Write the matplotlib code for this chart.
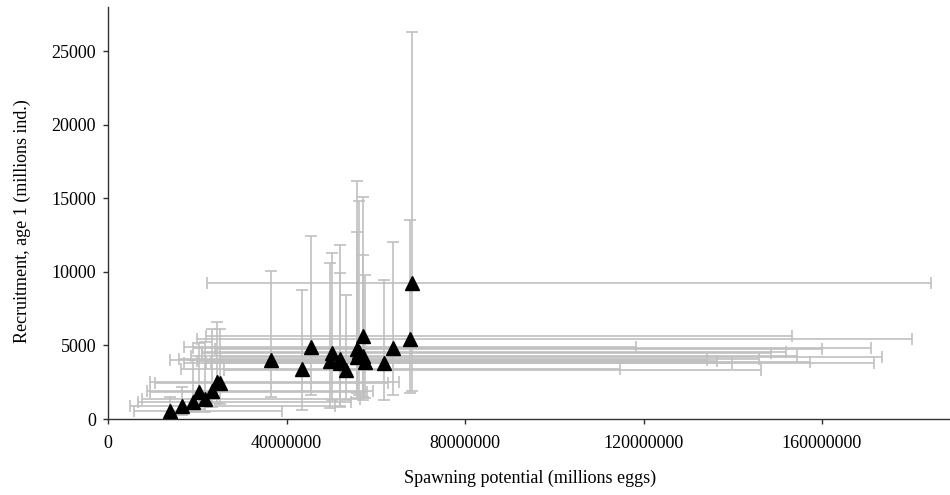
import matplotlib
matplotlib.use('Agg')
import matplotlib.pyplot as plt
import numpy as np

# spawning potential (millions eggs) -- values in units of 1e6
spawn = np.array([14.0, 16.5, 19.1, 20.5, 21.7, 23.2, 24.4, 25.1,
                  36.5, 43.4, 45.6, 50.1, 49.7, 52.0, 53.3, 57.1, 55.9,
                  55.7, 57.2, 57.7, 61.9, 63.8, 67.7, 68.1, 52.1, 56.3]) * 1e6
spawn_lo = np.array([5.8, 4.9, 6.7, 9.4, 7.6, 8.7, 9.4, 10.5,
                     14.0, 16.4, 17.1, 21.0, 20.0, 16.0, 26.0, 22.0, 24.0,
                     25.0, 18.5, 23.0, 22.0, 19.0, 20.0, 22.2, 17.0, 21.0]) * 1e6
spawn_hi = np.array([39.0, 50.9, 54.5, 58.0, 56.5, 59.4, 65.2, 62.7,
                     134.2, 114.7, 118.3, 148.6, 136.4, 145.9, 146.3, 153.2, 160.0,
                     173.4, 154.3, 157.3, 171.7, 171.0, 180.1, 184.4, 139.9, 152.0]) * 1e6

# recruitment, age 1 (millions ind.)
recruit = np.array([565, 885, 1180, 1860, 1340, 1925, 2540, 2430,
                    4015, 3400, 4920, 4470, 3970, 4060, 3335, 5650, 4745,
                    4200, 4290, 3900, 3790, 4810, 5425, 9235, 3810, 4560])
recruit_lo = np.array([150, 300, 500, 700, 450, 800, 1100, 1000,
                       1500, 600, 1630, 1290, 750, 840, 1290, 1500, 1800,
                       1400, 1300, 1400, 1290, 1630, 1750, 1900, 900, 1600])
recruit_hi = np.array([1500, 2200, 4000, 5170, 5260, 6100, 6620, 6125,
                       10025, 8780, 12455, 11280, 10600, 11840, 8440, 15090, 16150,
                       12680, 11160, 9800, 9460, 12000, 13500, 26290, 9916, 14790])

xticks = [0, 40000000, 80000000, 120000000, 160000000]
xticklabels = ['0', '40000000', '80000000', '120000000', '160000000']
yticks = [0, 5000, 10000, 15000, 20000, 25000]
yticklabels = ['0', '5000', '10000', '15000', '20000', '25000']

plt.rcParams['font.family'] = ['Liberation Serif', 'DejaVu Serif']

fig = plt.figure(figsize=(9.5, 4.95), dpi=100)
ax = fig.add_axes([108 / 950, 1 - 419 / 495, 842 / 950, 412 / 495])

xerr = np.vstack([spawn - spawn_lo, spawn_hi - spawn])
yerr = np.vstack([recruit - recruit_lo, recruit_hi - recruit])
ax.errorbar(spawn, recruit, xerr=xerr, yerr=yerr, fmt='none',
            ecolor='#c0c0c0', elinewidth=1.2, capsize=4.5, capthick=1.2, zorder=2)
ax.plot(spawn, recruit, linestyle='none', marker='^', color='black',
        markersize=9.5, zorder=3)

ax.set_xlim(0, (950 - 108) / 178.5 * 40000000)
ax.set_ylim(0, 28000)
ax.set_xticks(xticks)
ax.set_xticklabels(xticklabels)
ax.set_yticks(yticks)
ax.set_yticklabels(yticklabels)

for s in ['top', 'right']:
    ax.spines[s].set_visible(False)
for s in ['left', 'bottom']:
    ax.spines[s].set_color('#303030')
    ax.spines[s].set_linewidth(1.0)

ax.tick_params(axis='both', direction='out', length=3.5, width=1.0,
               color='#303030', labelsize=13)
ax.tick_params(axis='x', pad=8)
ax.tick_params(axis='y', pad=5)

ax.set_xlabel('Spawning potential (millions eggs)', fontsize=13)
ax.xaxis.set_label_coords(0.501, -0.122)
ax.set_ylabel('Recruitment, age 1 (millions ind.)', fontsize=13)
ax.yaxis.set_label_coords(-0.092, 0.48)

fig.savefig('out.png', dpi=100)
